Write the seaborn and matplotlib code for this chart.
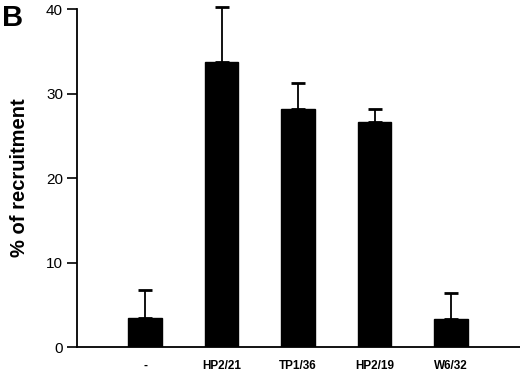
import numpy as np
import pandas as pd
import matplotlib
matplotlib.use("Agg")
import matplotlib.pyplot as plt
import seaborn as sns

# values
antibodies = ["-", "HP2/21", "TP1/36", "HP2/19", "W6/32"]
recruitment = [3.4, 33.7, 28.2, 26.6, 3.3]
sem = [3.3, 6.5, 3.0, 1.6, 3.1]
yticks = [0, 10, 20, 30, 40]

sns.set_theme(style="white")
plt.rcParams["font.family"] = ["Liberation Sans", "DejaVu Sans"]
plt.rcParams["text.color"] = "black"
plt.rcParams["axes.labelcolor"] = "black"
plt.rcParams["xtick.color"] = "black"
plt.rcParams["ytick.color"] = "black"

df = pd.DataFrame({"ab": antibodies, "pct": recruitment})

fig = plt.figure(figsize=(5.2, 3.73), dpi=100)
ax = fig.add_axes([0.148, 0.0697, 0.852, 0.906])

sns.barplot(data=df, x="ab", y="pct", color="black", width=0.44,
            saturation=1, edgecolor="black", ax=ax, errorbar=None)
# upper error bars only
eb = ax.errorbar(np.arange(len(antibodies)), recruitment,
                 yerr=[np.zeros(len(sem)), sem], fmt="none",
                 ecolor="black", elinewidth=1.3, capsize=5, capthick=2)
for art in eb.lines[1] + eb.lines[2]:
    art.set_clip_on(False)

ax.set_xlim(-0.89, 4.9)
ax.set_ylim(0, 40)
ax.set_yticks(yticks)
ax.set_yticklabels([str(t) for t in yticks], fontsize=11)
ax.tick_params(axis="y", direction="out", length=7, width=1.2, pad=3,
               left=True, colors="black")
ax.tick_params(axis="x", length=0, pad=9)
for lab in ax.get_xticklabels():
    lab.set_fontsize(8.5)
    lab.set_fontweight("bold")

sns.despine(ax=ax, top=True, right=True)
ax.spines["left"].set_linewidth(1.3)
ax.spines["bottom"].set_linewidth(1.3)
ax.spines["left"].set_color("black")
ax.spines["bottom"].set_color("black")

ax.set_xlabel("")
ax.set_ylabel("% of recruitment", fontsize=14.5, fontweight="bold", labelpad=12)

fig.text(0.003, 0.99, "B", fontsize=21, fontweight="bold", va="top", ha="left",
         color="black")

fig.savefig("out.png", dpi=100)
